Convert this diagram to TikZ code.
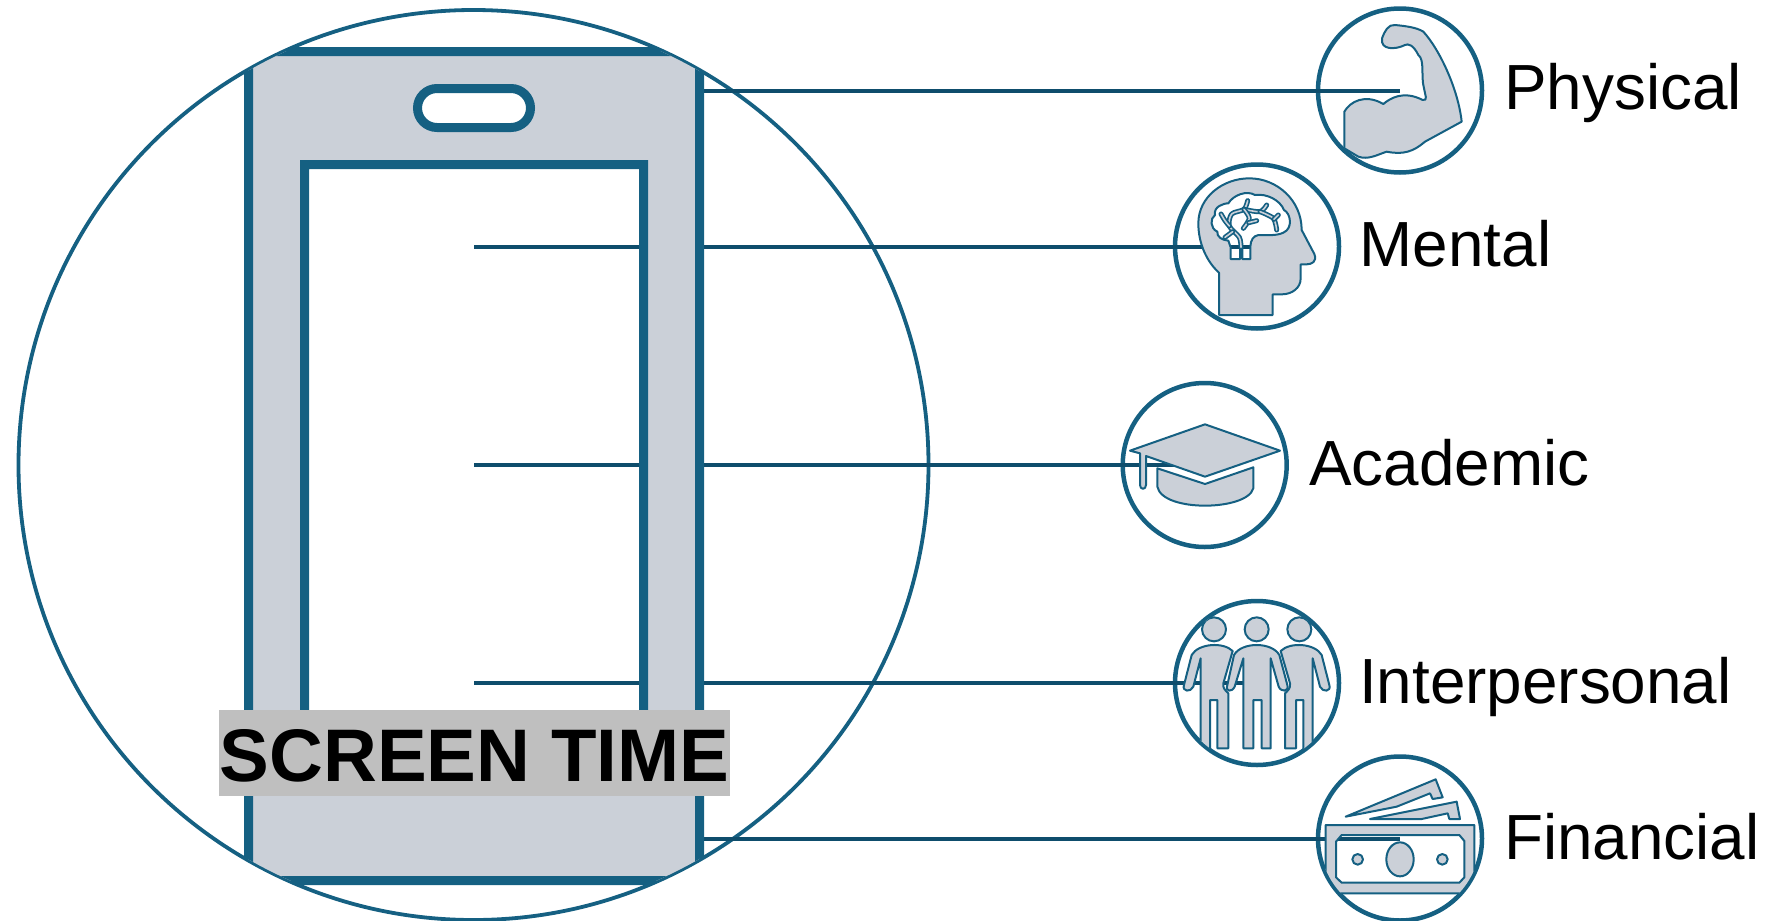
\documentclass[tikz,border=0pt]{standalone}
\usepackage{fontspec}
\setmainfont{Liberation Sans}
\usepackage{tikz}
\definecolor{phoneblue}{HTML}{156082}
\definecolor{linkblue}{HTML}{0E4D6C}
\definecolor{phonegray}{HTML}{CBD0D8}
\definecolor{labelgray}{HTML}{BFBFBF}
\tikzset{
  bigring/.style={circle, draw=phoneblue, line width=3.8pt, minimum size=910pt, inner sep=0pt, outer sep=0pt},
  iconring/.style={circle, draw=phoneblue, line width=4.5pt, minimum size=164pt, inner sep=0pt, outer sep=0pt},
  link/.style={draw=linkblue, line width=4pt},
  phonebody/.style={draw=phoneblue, fill=phonegray, line width=9pt, even odd rule},
  iconshape/.style={draw=phoneblue, fill=phonegray, line width=2pt, even odd rule, line join=round},
  iconbranch/.style={draw=phoneblue, line width=1.7pt, double=phonegray, double distance=1.6pt, line cap=round, line join=round},
  domainlabel/.style={anchor=base west, inner sep=0pt, font=\fontsize{63.8}{70}\selectfont},
  titlelabel/.style={fill=labelgray, minimum width=511pt, minimum height=86pt, inner sep=0pt, text height=57.5pt, font=\fontsize{74.5}{80}\selectfont\bfseries}
}

\begin{document}
\begin{tikzpicture}[x=1pt, y=-1pt]
        \useasboundingbox (0,0) rectangle (1770,921);
        \node[bigring] (bigcircle) at (473.5,465) {};
        \node[iconring] (physicalring) at (1400,90.5) {};
        \node[iconring] (mentalring) at (1257,246.5) {};
        \node[iconring] (academicring) at (1204.7,465) {};
        \node[iconring] (interpersonalring) at (1257,683) {};
        \node[iconring] (financialring) at (1400,838.5) {};
        \coordinate (physicaltap) at (700,90.5);
        \coordinate (mentaltap) at (474,246.5);
        \coordinate (academictap) at (474,465);
        \coordinate (interpersonaltap) at (474,683);
        \coordinate (financialtap) at (700,838.5);
        \draw[link] (physicaltap) -- (physicalring.center);
        \draw[link] (mentaltap) -- (mentalring.center);
        \draw[link] (academictap) -- (academicring.center);
        \draw[link] (interpersonaltap) -- (interpersonalring.center);
        \draw[link] (financialtap) -- (financialring.center);

        \begin{scope}
            \clip (bigcircle.center) circle (454);
            \filldraw[phonebody] (248.5,51.5) rectangle (699.5,880.5)
                (304.5,164.5) rectangle (643.5,750)
                [rounded corners=19.5pt] (417.5,88.5) rectangle (530.5,127.5);
        \end{scope}

        \begin{scope}
            \clip (physicalring.center) circle (80.5);
            \begin{scope}[shift={(1290,0)}, scale=1/3]
                \filldraw[iconshape] (163,335) .. controls (180,305) and (225,280) .. (280,312)
                    .. controls (300,295) and (340,270) .. (398,300)
                    .. controls (415,303) and (405,285) .. (402,265)
                    .. controls (392,230) and (405,180) .. (385,165)
                    .. controls (370,135) and (355,130) .. (345,135)
                    .. controls (315,150) and (270,150) .. (276,115)
                    .. controls (283,95) and (295,72) .. (315,75)
                    .. controls (345,78) and (380,82) .. (400,95)
                    .. controls (450,150) and (505,270) .. (515,365)
                    -- (405,425) .. controls (370,455) and (340,465) .. (290,455)
                    .. controls (260,465) and (235,480) .. (205,470) -- (163,445) -- cycle;
            \end{scope}
        \end{scope}

        \begin{scope}[shift={(1160,150)}, scale=1/3]
            \filldraw[iconshape] (177,495) -- (177,368) .. controls (140,335) and (115,280) .. (115,220)
                .. controls (115,140) and (190,85) .. (268,85) .. controls (350,85) and (425,150) .. (425,240)
                -- (463,312) .. controls (472,335) and (455,343) .. (440,343) -- (422,343) -- (422,385)
                .. controls (422,415) and (395,433) .. (365,433) -- (338,433) -- (338,495) -- cycle
                (212,327) -- (212,292) -- (205,272) .. controls (185,270) and (170,260) .. (172,245)
                .. controls (150,235) and (150,205) .. (165,195) .. controls (160,170) and (190,160) .. (205,160)
                .. controls (220,135) and (260,120) .. (285,135) .. controls (320,130) and (360,150) .. (372,180)
                .. controls (392,190) and (400,235) .. (370,248) .. controls (350,258) and (320,255) .. (295,255)
                .. controls (280,258) and (272,270) .. (271,290) -- (271,327) -- (247,327) -- (247,290)
                -- (240,290) -- (240,327) -- cycle;
            \draw[iconbranch] plot[smooth] coordinates {(243,292) (238,262) (208,228) (215,192) (252,178) (263,152)};
            \draw[iconbranch] plot[smooth] coordinates {(208,228) (195,212) (183,192)};
            \draw[iconbranch] (195,262) -- (218,245);
            \draw[iconbranch] plot[smooth] coordinates {(252,178) (300,185) (320,165)};
            \draw[iconbranch] plot[smooth] coordinates {(300,185) (340,205) (350,240)};
            \draw[iconbranch] (342,208) -- (355,195);
            \draw[iconbranch] plot[smooth] coordinates {(252,178) (268,205) (250,235)};
            \draw[iconbranch] (266,218) -- (290,212);
        \end{scope}

        \begin{scope}[shift={(1110,370)}, scale=1/3]
            \filldraw[iconshape] (60,242) -- (285,163) -- (510,242) -- (285,320) -- (108,258) -- (108,345)
                .. controls (108,360) and (90,360) .. (90,345) -- (90,250) -- cycle;
            \filldraw[iconshape] (142,295) -- (285,342) -- (430,292) -- (430,355)
                .. controls (420,390) and (350,407) .. (285,407)
                .. controls (220,407) and (150,390) .. (142,350) -- cycle;
        \end{scope}

        \begin{scope}
            \clip (interpersonalring.center) circle (80.5);
            \begin{scope}[shift={(1160,590)}, scale=1/3]
                \filldraw[iconshape] (162,118) circle (36);
                \filldraw[iconshape] (290,118) circle (36);
                \filldraw[iconshape] (418,118) circle (36);
                \filldraw[iconshape] (122,480) -- (122,205) -- (100,290) .. controls (92,308) and (65,305) .. (72,285)
                    -- (95,195) .. controls (115,160) and (190,155) .. (218,183) -- (190,280)
                    .. controls (188,295) and (195,300) .. (205,310) -- (205,475) -- (172,475) -- (172,330)
                    -- (150,330) -- (150,480) -- cycle;
                \filldraw[iconshape] (458,480) -- (458,205) -- (480,290) .. controls (488,308) and (515,305) .. (508,285)
                    -- (485,195) .. controls (465,160) and (390,155) .. (362,183) -- (390,280)
                    .. controls (392,295) and (385,300) .. (375,310) -- (375,475) -- (408,475) -- (408,330)
                    -- (430,330) -- (430,480) -- cycle;
                \filldraw[iconshape] (250,475) -- (250,205) -- (224,290) .. controls (216,308) and (194,305) .. (202,285)
                    -- (222,195) .. controls (245,155) and (335,155) .. (358,195)
                    -- (382,285) .. controls (388,305) and (364,308) .. (356,290) -- (332,205) -- (332,475)
                    -- (305,475) -- (305,330) -- (280,330) -- (280,475) -- cycle;
            \end{scope}
        \end{scope}

        \begin{scope}
            \clip (financialring.center) circle (80.5);
            \begin{scope}[shift={(1300,745)}, scale=1/3]
                \filldraw[iconshape] (137,215) -- (407,103) -- (428,157) -- (398,162) -- (390,145) -- (290,185) -- cycle;
                \filldraw[iconshape] (210,222) -- (470,170) -- (480,222) -- (448,222) -- (443,205) -- (365,222) -- cycle;
                \filldraw[iconshape] (77,240) -- (523,240) -- (523,445) -- (77,445) -- cycle
                    (108,290) -- (125,270) -- (478,270) -- (493,288) -- (493,397) -- (478,413) -- (125,413) -- (108,397) -- cycle;
                \filldraw[iconshape] (300,343) ellipse (41 and 51);
                \filldraw[iconshape] (173,343) circle (16);
                \filldraw[iconshape] (427,343) circle (16);
            \end{scope}
        \end{scope}

        \node[titlelabel] (screentime) at (474.5,753) {SCREEN TIME};
        \node[domainlabel] (physicallabel) at (1504,109.5) {Physical};
        \node[domainlabel] (mentallabel) at (1359.5,266.5) {Mental};
        \node[domainlabel] (academiclabel) at (1309,485) {Academic};
        \node[domainlabel] (interpersonallabel) at (1359,703.3) {Interpersonal};
        \node[domainlabel] (financiallabel) at (1504,859.5) {Financial};
    \end{tikzpicture}
\end{document}
